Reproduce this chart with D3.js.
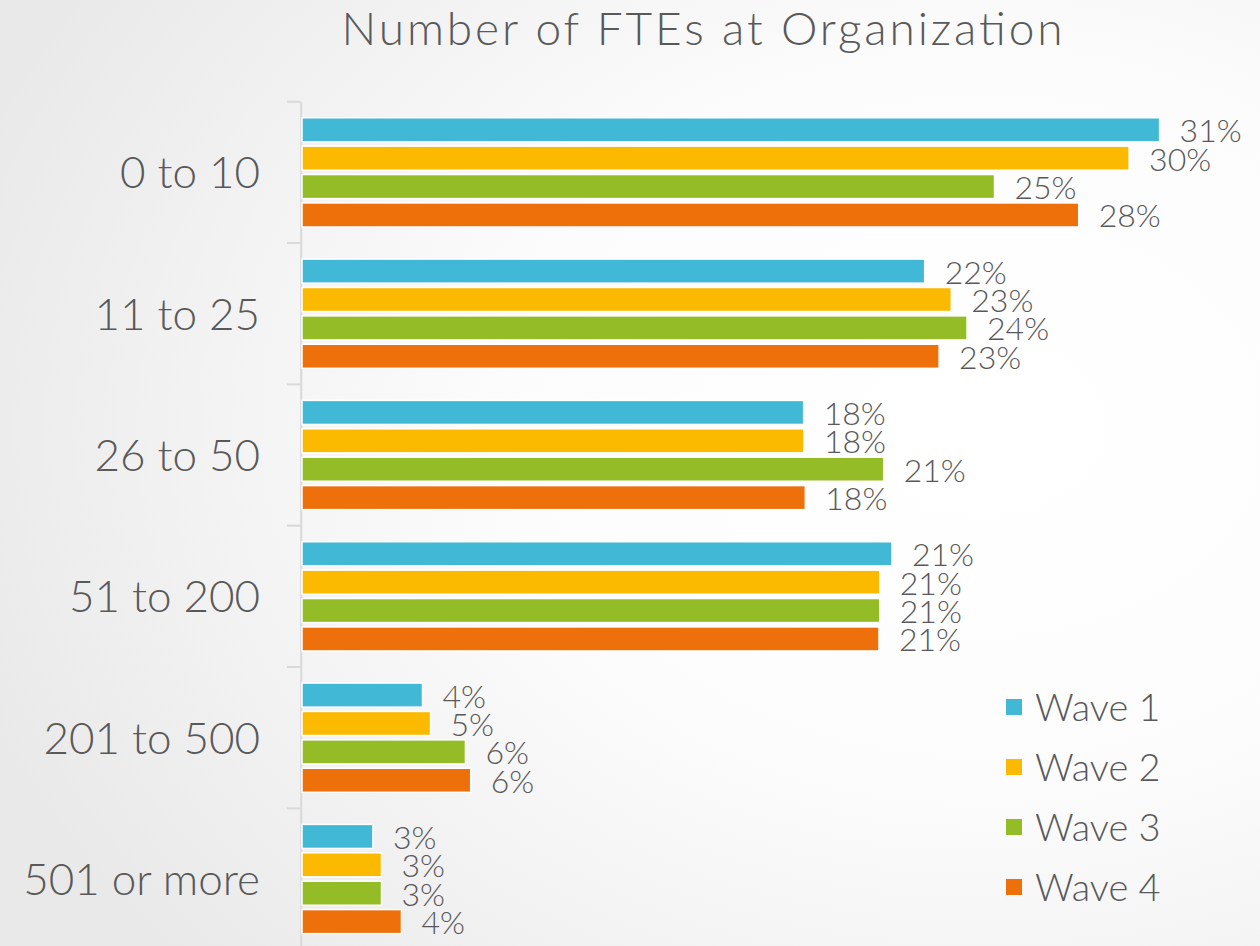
<!DOCTYPE html>
<html>
<head>
<meta charset="utf-8">
<script src="https://cdn.jsdelivr.net/npm/d3@7"></script>
<style>
  html, body { margin: 0; padding: 0; background: #fff; }
  svg { display: block; }
</style>
</head>
<body>
<script>
// chart data
const title = "Number of FTEs at Organization";
const categories = ["0 to 10", "11 to 25", "26 to 50", "51 to 200", "201 to 500", "501 or more"];
const series = ["Wave 1", "Wave 2", "Wave 3", "Wave 4"];
const wave1 = [30.96, 22.48, 18.11, 21.30, 4.35, 2.56];
const wave2 = [29.86, 23.44, 18.12, 20.86, 4.64, 2.87];
const wave3 = [25.00, 24.01, 21.00, 20.86, 5.90, 2.87];
const wave4 = [28.04, 23.00, 18.17, 20.83, 6.09, 3.59];
const colors = ["#41B8D5", "#FBB900", "#93BC26", "#ED700A"];

const width = 1260, height = 946;
const font = "Lato, 'Open Sans', sans-serif";
const textColor = "#595959";

const values = [wave1, wave2, wave3, wave4];
const rows = categories.map((c, i) => ({
  category: c,
  bars: series.map((s, j) => ({ series: s, value: values[j][i] }))
}));

const svg = d3.select("body").append("svg")
  .attr("width", width)
  .attr("height", height)
  .attr("font-family", font)
  .attr("font-weight", 300);

// soft grey backdrop, lighter towards the right
const grad = svg.append("defs").append("radialGradient")
  .attr("id", "bg")
  .attr("cx", "78%").attr("cy", "45%").attr("r", "85%");
grad.append("stop").attr("offset", "0%").attr("stop-color", "#ffffff");
grad.append("stop").attr("offset", "45%").attr("stop-color", "#fcfcfc");
grad.append("stop").attr("offset", "100%").attr("stop-color", "#e9e9e9");
svg.append("rect").attr("width", width).attr("height", height).attr("fill", "url(#bg)");

const x = d3.scaleLinear()
  .domain([0, 35])
  .range([302, 302 + 27.7 * 35]);

const y = d3.scaleBand()
  .domain(categories)
  .range([101.7, 101.7 + 141.33 * categories.length]);

const y1 = d3.scaleBand()
  .domain(series)
  .range([0, y.bandwidth()])
  .paddingInner(0.153)
  .paddingOuter(0.565);

const color = d3.scaleOrdinal(series, colors);

// axis line with ticks between the categories
const axis = svg.append("g")
  .attr("transform", `translate(${x(0) - 1.3},0)`)
  .call(d3.axisLeft(y).tickSize(0).tickFormat(""));
axis.select(".domain").attr("stroke", "#d9d9d9").attr("stroke-width", 2);
axis.selectAll(".tick").remove();

const edges = categories.map(c => y(c)).concat([y(categories[categories.length - 1]) + y.step()]);
svg.append("g")
  .selectAll("line")
  .data(edges)
  .join("line")
  .attr("x1", 287).attr("x2", x(0) - 1.3)
  .attr("y1", d => d).attr("y2", d => d)
  .attr("stroke", "#d9d9d9")
  .attr("stroke-width", 2);

// category labels
svg.append("g")
  .selectAll("text")
  .data(categories)
  .join("text")
  .attr("x", 260)
  .attr("y", d => y(d) + y.bandwidth() / 2)
  .attr("dy", "0.36em")
  .attr("text-anchor", "end")
  .attr("font-size", 44)
  .attr("fill", textColor)
  .text(d => d);

const group = svg.append("g")
  .selectAll("g")
  .data(rows)
  .join("g")
  .attr("transform", d => `translate(0,${y(d.category)})`);

group.selectAll("rect")
  .data(d => d.bars)
  .join("rect")
  .attr("x", x(0))
  .attr("y", d => y1(d.series))
  .attr("width", d => x(d.value) - x(0))
  .attr("height", y1.bandwidth())
  .attr("fill", d => color(d.series))
  .attr("stroke", "#fff")
  .attr("stroke-width", 1.5);

group.selectAll("text")
  .data(d => d.bars)
  .join("text")
  .attr("x", d => x(d.value) + 20)
  .attr("y", d => y1(d.series) + y1.bandwidth() / 2 + 1)
  .attr("dy", "0.36em")
  .attr("font-size", 32)
  .attr("fill", textColor)
  .text(d => Math.round(d.value) + "%");

// title
svg.append("text")
  .attr("x", 702)
  .attr("y", 45)
  .attr("text-anchor", "middle")
  .attr("font-size", 46)
  .attr("textLength", 721)
  .attr("lengthAdjust", "spacing")
  .attr("fill", textColor)
  .text(title);

// legend
const legend = svg.append("g")
  .selectAll("g")
  .data(series)
  .join("g")
  .attr("transform", (d, i) => `translate(1006,${707 + i * 60})`);

legend.append("rect")
  .attr("y", -8)
  .attr("width", 16)
  .attr("height", 16)
  .attr("fill", d => color(d));

legend.append("text")
  .attr("x", 29)
  .attr("dy", "0.36em")
  .attr("font-size", 38)
  .attr("fill", textColor)
  .text(d => d);
</script>
</body>
</html>
